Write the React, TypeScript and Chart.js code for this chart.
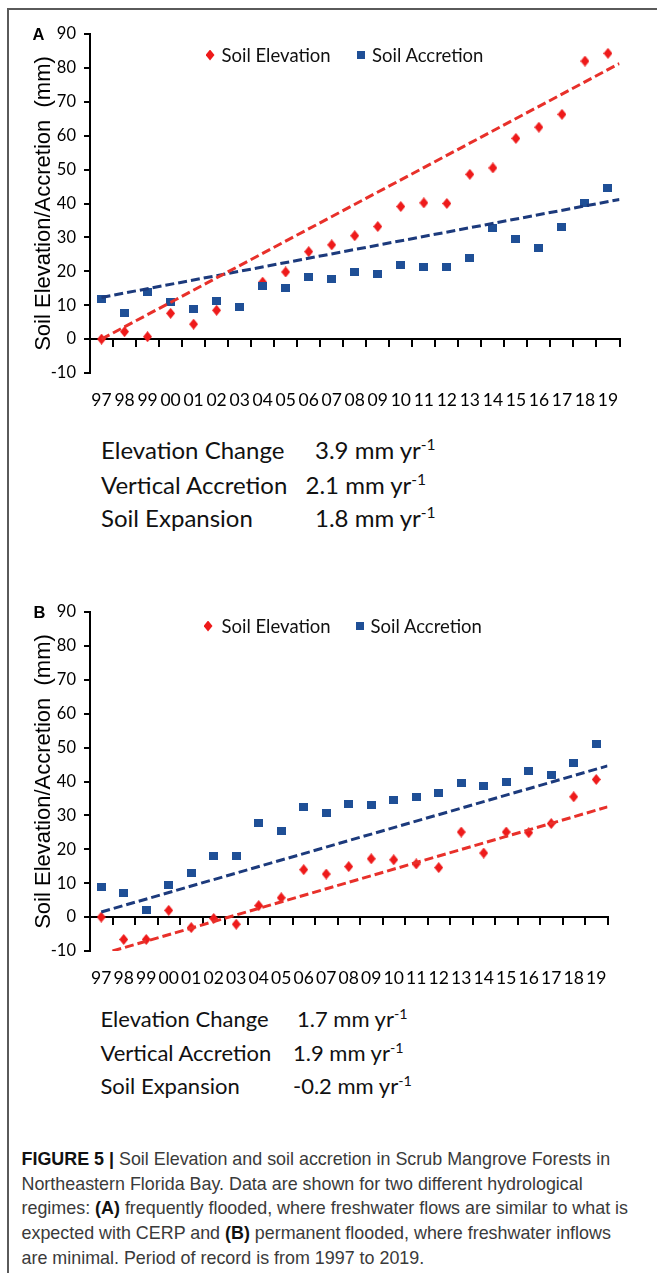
import React, { useEffect, useRef } from 'react';
import { Chart, registerables } from 'chart.js';

Chart.register(...registerables);

// ---------- data ----------
const years = ['97', '98', '99', '00', '01', '02', '03', '04', '05', '06', '07', '08', '09', '10', '11', '12', '13', '14', '15', '16', '17', '18', '19'];
const yTicks = [-10, 0, 10, 20, 30, 40, 50, 60, 70, 80, 90];

// Panel A (frequently flooded); 2003 elevation point is not visible in the figure
const elevA = [0, 2.2, 0.7, 7.6, 4.4, 8.5, null, 16.8, 19.8, 25.8, 27.8, 30.5, 33.2, 39.1, 40.2, 40.0, 48.6, 50.5, 59.2, 62.5, 66.3, 82.0, 84.3];
const accrA = [11.9, 7.6, 14.0, 11.0, 8.9, 11.2, 9.5, 15.6, 15.0, 18.4, 17.6, 19.8, 19.2, 21.8, 21.4, 21.2, 23.8, 32.7, 29.6, 26.8, 33.0, 40.1, 44.6];
// trend lines: x in year-index units, y in mm
const trendElevAX = [0, 22.5];
const trendElevAY = [0, 81.3];
const trendAccrAX = [0, 22.5];
const trendAccrAY = [12.3, 41.2];

// Panel B (permanently flooded)
const elevB = [0, -6.6, -6.6, 2.0, -3.1, -0.4, -2.1, 3.4, 5.7, 14.0, 12.7, 14.9, 17.2, 16.9, 15.7, 14.6, 25.1, 18.9, 25.1, 24.9, 27.6, 35.5, 40.6];
const accrB = [8.9, 7.1, 2.2, 9.4, 13.0, 17.9, 17.9, 27.8, 25.3, 32.5, 30.8, 33.5, 33.2, 34.5, 35.4, 36.5, 39.6, 38.8, 40.0, 43.2, 41.9, 45.4, 51.2];
const trendElevBX = [0.5, 22.5];
const trendElevBY = [-10, 32.5];
const trendAccrBX = [0, 22.5];
const trendAccrBY = [1.5, 44.6];

const legendLabels = ['Soil Elevation', 'Soil Accretion'];
const statLabels = ['Elevation Change', 'Vertical Accretion', 'Soil Expansion'];
const statsA = ['3.9', '2.1', '1.8'];
const statsB = ['1.7', '1.9', '-0.2'];

// ---------- styles ----------
const RED = '#ee1a1a';
const BLUE = '#1f4f96';
const RED_LINE = '#e8302a';
const BLUE_LINE = '#1c3a7c';
const AXIS = '#000000';
const TICK_FONT = "Lato, 'DejaVu Sans', sans-serif";
const TEXT_FONT = "Lato, 'Open Sans', sans-serif";
const ARIAL = "'Liberation Sans', Arial, sans-serif";

function makeMarker(kind: 'diamond' | 'square', w: number, h: number, color: string) {
  const c = document.createElement('canvas');
  c.width = w;
  c.height = h;
  const ctx = c.getContext('2d')!;
  ctx.fillStyle = color;
  if (kind === 'square') {
    ctx.fillRect(0, 0, w, h);
  } else {
    ctx.beginPath();
    ctx.moveTo(w / 2, 0);
    ctx.lineTo(w, h / 2);
    ctx.lineTo(w / 2, h);
    ctx.lineTo(0, h / 2);
    ctx.closePath();
    ctx.fill();
  }
  return c;
}

function pairs(xs: number[], ys: number[]) {
  return xs.map((x, i) => ({ x, y: ys[i] }));
}

function buildConfig(
  elev: (number | null)[],
  accr: number[],
  tElev: { x: number; y: number }[],
  tAccr: { x: number; y: number }[],
  rightPad: number
): any {
  const diamond = makeMarker('diamond', 9, 11, RED);
  const square = makeMarker('square', 9, 8, BLUE);
  return {
    type: 'line',
    data: {
      labels: years,
      datasets: [
        {
          label: 'trend-elev',
          data: tElev,
          xAxisID: 'xt',
          yAxisID: 'y',
          borderColor: RED_LINE,
          borderWidth: 3,
          borderDash: [9, 4],
          pointRadius: 0,
          fill: false,
          tension: 0,
        },
        {
          label: 'trend-accr',
          data: tAccr,
          xAxisID: 'xt',
          yAxisID: 'y',
          borderColor: BLUE_LINE,
          borderWidth: 3,
          borderDash: [9, 4],
          pointRadius: 0,
          fill: false,
          tension: 0,
        },
        {
          label: legendLabels[1],
          data: accr,
          xAxisID: 'x',
          yAxisID: 'y',
          showLine: false,
          pointStyle: square,
          pointRadius: 5,
          backgroundColor: BLUE,
          borderColor: BLUE,
        },
        {
          label: legendLabels[0],
          data: elev,
          xAxisID: 'x',
          yAxisID: 'y',
          showLine: false,
          pointStyle: diamond,
          pointRadius: 5,
          backgroundColor: RED,
          borderColor: RED,
        },
      ],
    },
    options: {
      responsive: false,
      maintainAspectRatio: false,
      devicePixelRatio: 1,
      animation: false,
      events: [],
      layout: { padding: { left: 33, top: 34, right: rightPad, bottom: 7 } },
      plugins: { legend: { display: false }, tooltip: { enabled: false } },
      scales: {
        x: {
          type: 'category',
          position: 'bottom',
          offset: true,
          grid: { display: false, drawTicks: false },
          border: { display: false },
          ticks: {
            padding: 17,
            color: AXIS,
            autoSkip: false,
            maxRotation: 0,
            font: { family: TICK_FONT, size: 17.5 },
          },
          afterFit: (s: any) => {
            s.height = 40;
          },
        },
        x0: {
          type: 'category',
          axis: 'x',
          labels: years,
          position: { y: 0 },
          offset: true,
          grid: {
            display: true,
            offset: true,
            drawOnChartArea: false,
            drawTicks: true,
            tickLength: 7,
            color: AXIS,
            lineWidth: 2,
          },
          border: { display: true, color: AXIS, width: 2 },
          ticks: { display: false },
          afterFit: (s: any) => {
            s.height = 0;
          },
        },
        xt: {
          type: 'linear',
          axis: 'x',
          display: false,
          min: -0.5,
          max: 22.5,
        },
        y: {
          type: 'linear',
          position: 'left',
          min: -10,
          max: 90,
          afterBuildTicks: (s: any) => {
            s.ticks = yTicks.map((v) => ({ value: v }));
          },
          grid: {
            display: true,
            drawOnChartArea: false,
            drawTicks: true,
            tickLength: 6,
            color: AXIS,
            lineWidth: 2,
          },
          border: { display: true, color: AXIS, width: 2 },
          ticks: {
            padding: 8,
            color: AXIS,
            font: { family: TICK_FONT, size: 16.5 },
          },
          title: {
            display: true,
            text: 'Soil Elevation/Accretion  (mm)',
            color: AXIS,
            padding: 0,
            font: { family: ARIAL, size: 22, lineHeight: 1 },
          },
          afterFit: (s: any) => {
            s.width = 57;
          },
        },
      },
    },
  };
}

function ChartPanel(props: {
  top: number;
  elev: (number | null)[];
  accr: number[];
  tElev: { x: number; y: number }[];
  tAccr: { x: number; y: number }[];
  rightPad: number;
}) {
  const ref = useRef<HTMLCanvasElement | null>(null);
  useEffect(() => {
    if (!ref.current) return;
    const chart = new Chart(ref.current, buildConfig(props.elev, props.accr, props.tElev, props.tAccr, props.rightPad));
    return () => chart.destroy();
  }, []);
  return (
    <canvas
      ref={ref}
      width={657}
      height={420}
      style={{ position: 'absolute', left: 0, top: props.top, width: 657, height: 420, display: 'block' }}
    />
  );
}

function Txt(props: { x: number; y: number; size: number; family?: string; weight?: any; color?: string; children: any }) {
  return (
    <div
      style={{
        position: 'absolute',
        left: props.x,
        top: props.y,
        transform: 'translateY(-50%)',
        fontFamily: props.family || TEXT_FONT,
        fontSize: props.size,
        fontWeight: props.weight || 'normal',
        color: props.color || '#111',
        lineHeight: 1,
        whiteSpace: 'nowrap',
      }}
    >
      {props.children}
    </div>
  );
}

function Legend(props: { y: number; dx: number[]; tx: number[] }) {
  return (
    <>
      <div
        style={{
          position: 'absolute',
          left: props.dx[0] - 4.5,
          top: props.y - 5.5,
          width: 9,
          height: 11,
          background: RED,
          clipPath: 'polygon(50% 0, 100% 50%, 50% 100%, 0 50%)',
        }}
      />
      <Txt x={props.tx[0]} y={props.y} size={18.5}>{legendLabels[0]}</Txt>
      <div
        style={{ position: 'absolute', left: props.dx[1] - 4, top: props.y - 4, width: 8, height: 8, background: BLUE }}
      />
      <Txt x={props.tx[1]} y={props.y} size={18.5}>{legendLabels[1]}</Txt>
    </>
  );
}

function Stats(props: { rows: number[]; valX: number[]; vals: string[]; size: number; x: number }) {
  return (
    <>
      {statLabels.map((l, i) => (
        <React.Fragment key={l}>
          <Txt x={props.x} y={props.rows[i]} size={props.size}>{l}</Txt>
          <Txt x={props.valX[i]} y={props.rows[i]} size={props.size}>
            {props.vals[i]} mm yr
            <sup style={{ fontSize: '0.65em', verticalAlign: '0.55em', lineHeight: 0 }}>-1</sup>
          </Txt>
        </React.Fragment>
      ))}
    </>
  );
}

const captionLines: any[] = [
  <>
    <b style={{ color: '#111' }}>FIGURE 5 |</b> Soil Elevation and soil accretion in Scrub Mangrove Forests in
  </>,
  <>Northeastern Florida Bay. Data are shown for two different hydrological</>,
  <>
    regimes: <b style={{ color: '#111' }}>(A)</b> frequently flooded, where freshwater flows are similar to what is
  </>,
  <>
    expected with CERP and <b style={{ color: '#111' }}>(B)</b> permanent flooded, where freshwater inflows
  </>,
  <>are minimal. Period of record is from 1997 to 2019.</>,
];

export default function App() {
  return (
    <div
      style={{
        position: 'absolute',
        left: 0,
        top: 0,
        width: 657,
        height: 1273,
        background: '#fff',
        overflow: 'hidden',
      }}
    >
      {/* figure frame */}
      <div
        style={{
          position: 'absolute',
          left: 7,
          top: 8,
          width: 700,
          height: 1300,
          borderLeft: '2px solid #5a5a5a',
          borderTop: '2px solid #5a5a5a',
        }}
      />
      <ChartPanel top={0} elev={elevA} accr={accrA} tElev={pairs(trendElevAX, trendElevAY)} tAccr={pairs(trendAccrAX, trendAccrAY)} rightPad={37.5} />
      <ChartPanel top={578} elev={elevB} accr={accrB} tElev={pairs(trendElevBX, trendElevBY)} tAccr={pairs(trendAccrBX, trendAccrBY)} rightPad={49.5} />

      <Txt x={32.5} y={34} size={16.5} family={ARIAL} weight="bold" color="#000">A</Txt>
      <Txt x={33.5} y={612} size={16.5} family={ARIAL} weight="bold" color="#000">B</Txt>

      <Legend y={55} dx={[210, 361]} tx={[221.5, 372]} />
      <Legend y={626} dx={[208, 359.5]} tx={[221.5, 370.5]} />

      <Stats x={101} rows={[450, 485, 518]} valX={[315, 305.5, 315]} vals={statsA} size={24} />
      <Stats x={100.5} rows={[1019, 1053, 1086]} valX={[297, 293, 293]} vals={statsB} size={22} />

      {captionLines.map((ln, i) => (
        <Txt key={i} x={21.5} y={1160 + i * 24.7} size={17.9} family={ARIAL} color="#3a3a3a">
          {ln}
        </Txt>
      ))}
    </div>
  );
}
